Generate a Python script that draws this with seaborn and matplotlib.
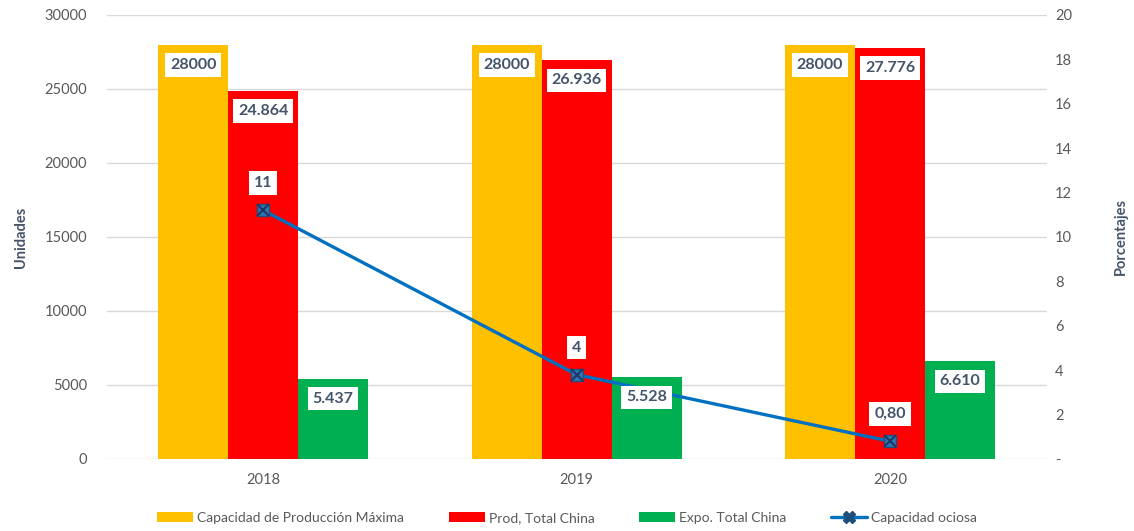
import numpy as np
import pandas as pd
import matplotlib
matplotlib.use("Agg")
import matplotlib.pyplot as plt
import seaborn as sns
from matplotlib.lines import Line2D
from matplotlib.patches import Patch

# datos
anios = ["2018", "2019", "2020"]
capacidad = [28000, 28000, 28000]
produccion = [24864, 26936, 27776]
exportacion = [5437, 5528, 6610]
ociosa = [11.2, 3.8, 0.8]
ociosa_txt = ["11", "4", "0,80"]
series = ["Capacidad de Producción Máxima", "Prod, Total China", "Expo. Total China"]
colores = ["#FFC000", "#FF0000", "#00B050"]

sns.set_style("white")
plt.rcParams["font.family"] = ["Lato", "DejaVu Sans"]

df = pd.DataFrame({
    "anio": anios * 3,
    "valor": capacidad + produccion + exportacion,
    "serie": [series[0]] * 3 + [series[1]] * 3 + [series[2]] * 3,
})

fig = plt.figure(figsize=(11.34, 5.31), dpi=100)
ax = fig.add_axes([0.094, 0.1356, 0.829, 0.8362])

sns.barplot(data=df, x="anio", y="valor", hue="serie", hue_order=series,
            palette=colores, width=0.67, saturation=1, linewidth=0,
            legend=False, ax=ax)

gris = "#595959"
azul_txt = "#44546A"
ax.set_ylim(0, 30000)
ax.set_yticks(range(0, 30001, 5000))
ax.set_xlim(-0.5, 2.5)
ax.grid(axis="y", color="#D9D9D9", linewidth=1)
ax.set_axisbelow(True)
for s in ax.spines.values():
    s.set_visible(False)
ax.tick_params(axis="both", length=0, labelsize=10.5, labelcolor=gris)
ax.tick_params(axis="y", pad=14)
ax.tick_params(axis="x", pad=10)
ax.set_xlabel("")
ax.set_ylabel("Unidades", fontsize=10.5, fontweight="bold", color=azul_txt, labelpad=12)

caja = dict(boxstyle="square,pad=0.3", facecolor="white", edgecolor="none")

# eje secundario
ax2 = ax.twinx()
x_pos = np.arange(len(anios))
sns.lineplot(x=x_pos, y=ociosa, ax=ax2, color="#0070C0", linewidth=2.4)
ax2.plot(x_pos, ociosa, linestyle="none", marker="s", markersize=9,
         markerfacecolor="#2E75B6", markeredgecolor="#1F4E79", zorder=4)
ax2.plot(x_pos, ociosa, linestyle="none", marker="x", markersize=8,
         markeredgecolor="#1F3864", markeredgewidth=1.5, zorder=5)
for xp, v, t in zip(x_pos, ociosa, ociosa_txt):
    ax2.annotate(t, (xp, v), xytext=(0, 19.5), textcoords="offset points",
                 ha="center", va="center", fontsize=11.5, fontweight="bold",
                 color=azul_txt, bbox=caja, zorder=6)

# etiquetas de barras (sobre la linea)
for i, cont in enumerate(ax.containers):
    for bar in cont:
        v = bar.get_height()
        txt = f"{int(v)}" if i == 0 else f"{int(v):,}".replace(",", ".")
        ax2.annotate(txt, (bar.get_x() + bar.get_width() / 2, v), xycoords=ax.transData,
                     xytext=(0, -14.5), textcoords="offset points",
                     ha="center", va="center", fontsize=11.5, fontweight="bold",
                     color=azul_txt, bbox=caja, zorder=6)

ax2.set_ylim(0, 20)
ax2.set_yticks(range(0, 21, 2))
ax2.set_yticklabels(["-"] + [str(t) for t in range(2, 21, 2)])
ax2.set_xlim(-0.5, 2.5)
for s in ax2.spines.values():
    s.set_visible(False)
ax2.tick_params(axis="y", length=0, labelsize=10.5, labelcolor=gris, pad=6)
ax2.set_ylabel("Porcentajes", fontsize=10.5, fontweight="bold", color=azul_txt, labelpad=30)
ax2.grid(False)

# leyenda
handles = [Patch(facecolor=c, edgecolor="none") for c in colores]
handles.append(Line2D([0], [0], color="#0070C0", linewidth=2.4, marker="X",
                      markersize=8, markerfacecolor="#1F4E79", markeredgecolor="#1F4E79"))
fig.legend(handles, series + ["Capacidad ociosa"], loc="lower center", ncol=4,
           frameon=False, fontsize=10, bbox_to_anchor=(0.5, -0.01),
           handlelength=2.6, handleheight=0.8, handletextpad=0.3, columnspacing=3.2,
           labelcolor=gris)

fig.savefig("out.png", dpi=100)
